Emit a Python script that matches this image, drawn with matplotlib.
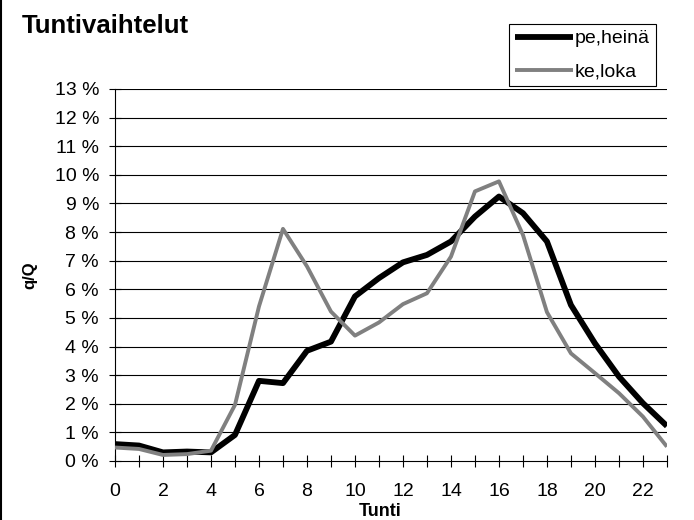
import matplotlib
matplotlib.use("Agg")
import matplotlib.pyplot as plt
from matplotlib.ticker import FuncFormatter, MultipleLocator
from matplotlib.lines import Line2D

plt.rcParams['font.family'] = ['Liberation Sans', 'DejaVu Sans']

tunnit = list(range(24))
pe_heina = [0.59, 0.54, 0.30, 0.33, 0.30, 0.91, 2.80, 2.72, 3.85, 4.17, 5.75, 6.39,
            6.94, 7.20, 7.67, 8.54, 9.24, 8.66, 7.67, 5.45, 4.11, 2.95, 2.02, 1.22]
ke_loka = [0.47, 0.42, 0.21, 0.24, 0.36, 1.96, 5.40, 8.11, 6.80, 5.22, 4.38, 4.84,
           5.48, 5.86, 7.14, 9.42, 9.77, 7.90, 5.20, 3.76, 3.07, 2.37, 1.55, 0.50]

fig = plt.figure(figsize=(6.94, 5.2), dpi=100)
ax = fig.add_axes([0.1657, 0.1135, 0.7953, 0.7155])

for y in range(1, 14):
    ax.axhline(y, color="black", linewidth=0.8, zorder=1)

ax.plot(tunnit, pe_heina, color="black", linewidth=4.2, label="pe,heinä",
        zorder=3, solid_capstyle="butt")
ax.plot(tunnit, ke_loka, color="#808080", linewidth=2.8, label="ke,loka",
        zorder=4, solid_capstyle="butt")

ax.set_xlim(0, 23)
ax.set_ylim(0, 13)
ax.xaxis.set_major_locator(MultipleLocator(2))
ax.xaxis.set_minor_locator(MultipleLocator(1))
ax.yaxis.set_major_locator(MultipleLocator(1))
ax.yaxis.set_major_formatter(FuncFormatter(lambda v, p: "%d %%" % v))
ax.tick_params(axis="both", which="both", direction="inout", length=9, width=0.8,
               labelsize=14)
ax.tick_params(axis="x", which="major", pad=11)
ax.tick_params(axis="y", pad=7)

for s in ["top", "right"]:
    ax.spines[s].set_visible(False)
for s in ["left", "bottom"]:
    ax.spines[s].set_linewidth(0.8)

ax.set_ylabel("q/Q", fontsize=12, fontweight="bold", labelpad=12)
fig.text(380 / 694, 1 - 503 / 520, "Tunti", fontsize=13, fontweight="bold",
         ha="center", va="top")

fig.text(22 / 694, 1 - 33 / 520, "Tuntivaihtelut", fontsize=18.5, fontweight="bold",
         va="baseline")

leg = fig.legend(loc="upper left", bbox_to_anchor=(509 / 694, 1 - 24 / 520), fontsize=14,
                 frameon=True, fancybox=False, edgecolor="black", framealpha=1,
                 handlelength=3.0, handletextpad=0.1, borderpad=0.3, labelspacing=0.8,
                 borderaxespad=0)
leg.get_frame().set_linewidth(0.8)

fig.add_artist(Line2D([0.0015, 0.0015], [0, 1], color="black", linewidth=1.5,
                      transform=fig.transFigure))

fig.savefig("out.png", dpi=100)
